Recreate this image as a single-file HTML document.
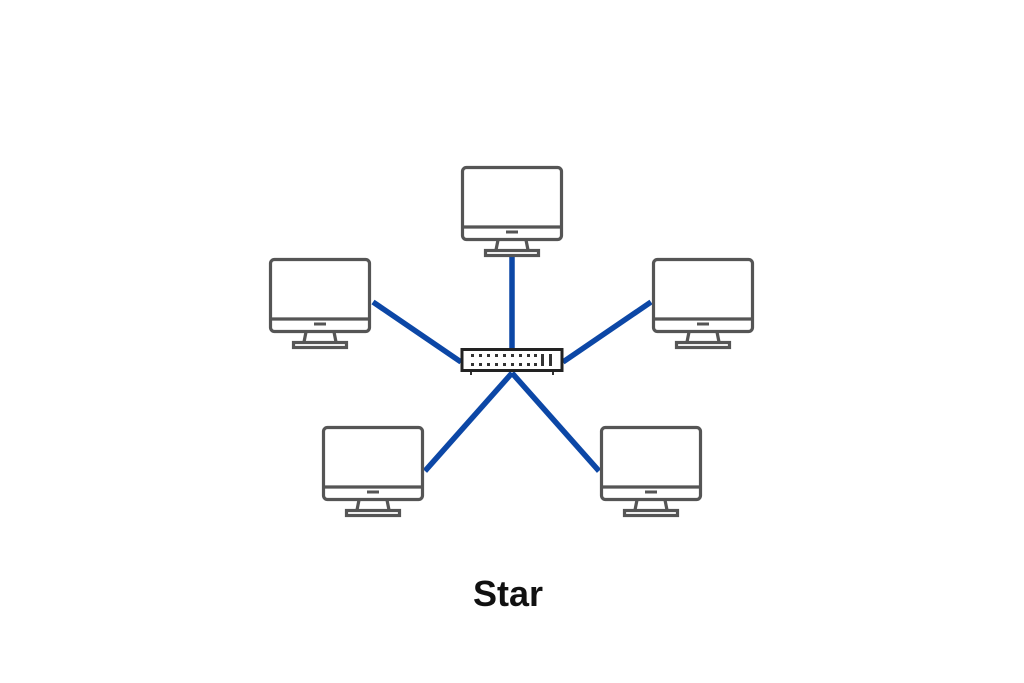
<!DOCTYPE html>
<html><head><meta charset="utf-8"><style>
html,body{margin:0;padding:0;background:#fff;}
svg{display:block;}
</style></head><body>
<svg width="1024" height="683" viewBox="0 0 1024 683" xmlns="http://www.w3.org/2000/svg">
<defs>
<g id="mon" fill="none" stroke="#555" stroke-width="3.2">
  <rect x="1.5" y="1.5" width="99" height="72" rx="4"/>
  <line x1="1.5" y1="61" x2="100.5" y2="61"/>
  <line x1="45" y1="66" x2="57" y2="66" stroke-width="3"/>
  <path d="M37 74 L35 84 M65 74 L67 84"/>
  <rect x="24.5" y="84.5" width="53" height="5"/>
</g>
</defs>
<rect width="1024" height="683" fill="#fff"/>
<g stroke="#0c47a6" stroke-width="5.5" stroke-linecap="butt">
  <line x1="512" y1="255" x2="512" y2="350"/>
  <line x1="373" y1="302" x2="461" y2="362"/>
  <line x1="651" y1="302" x2="563" y2="362"/>
  <line x1="512" y1="373" x2="425" y2="471"/>
  <line x1="512" y1="373" x2="599" y2="471"/>
</g>
<use href="#mon" x="461" y="166"/>
<use href="#mon" x="269" y="258"/>
<use href="#mon" x="652" y="258"/>
<use href="#mon" x="322" y="426"/>
<use href="#mon" x="600" y="426"/>
<g>
  <rect x="462" y="349.5" width="100" height="21" fill="#fff" stroke="#222" stroke-width="3"/>
  <g fill="#333">
    <rect x="470" y="372" width="2" height="3"/><rect x="552" y="372" width="2" height="3"/>
    <rect x="541" y="354" width="3" height="12"/><rect x="549" y="354" width="3" height="12"/>
  </g>
  <g fill="#333">
    <rect x="471" y="354" width="3" height="3"/><rect x="479" y="354" width="3" height="3"/><rect x="487" y="354" width="3" height="3"/><rect x="495" y="354" width="3" height="3"/><rect x="503" y="354" width="3" height="3"/><rect x="511" y="354" width="3" height="3"/><rect x="519" y="354" width="3" height="3"/><rect x="527" y="354" width="3" height="3"/><rect x="534" y="354" width="3" height="3"/>
    <rect x="471" y="363" width="3" height="3"/><rect x="479" y="363" width="3" height="3"/><rect x="487" y="363" width="3" height="3"/><rect x="495" y="363" width="3" height="3"/><rect x="503" y="363" width="3" height="3"/><rect x="511" y="363" width="3" height="3"/><rect x="519" y="363" width="3" height="3"/><rect x="527" y="363" width="3" height="3"/><rect x="534" y="363" width="3" height="3"/>
  </g>
</g>
<text x="508" y="606" text-anchor="middle" font-family="Liberation Sans, sans-serif" font-weight="bold" font-size="36" fill="#111">Star</text>
</svg>
</body></html>
